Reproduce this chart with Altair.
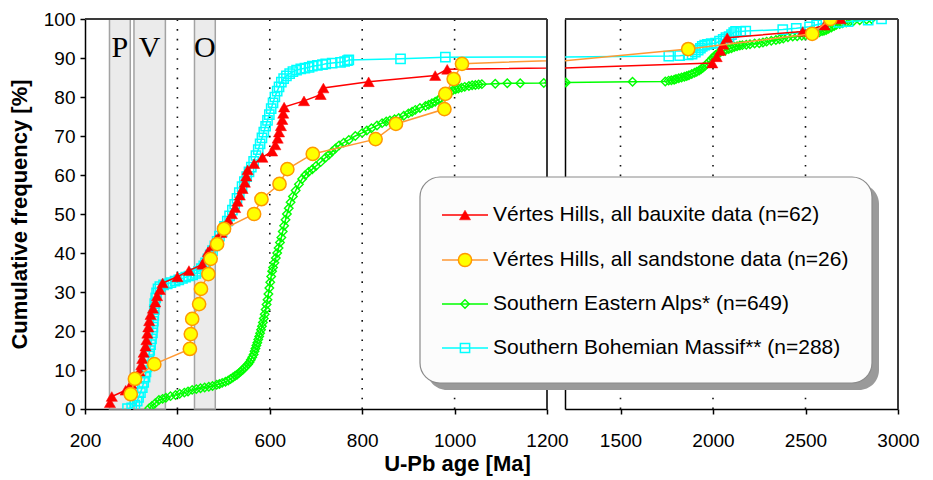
import altair as alt
import pandas as pd

FONT = "Liberation Sans"

# ---------------- data ----------------
series_names = [
    "Vértes Hills, all bauxite data (n=62)",
    "Vértes Hills, all sandstone data (n=26)",
    "Southern Eastern Alps* (n=649)",
    "Southern Bohemian Massif** (n=288)",
]

red_age = [254, 258, 288, 300, 310, 318, 322, 324, 327, 331, 333, 335, 337, 339, 342, 347,
           352, 356, 362, 368, 400, 425, 454, 462, 466, 476, 484, 495, 502, 510, 518, 525,
           530, 535, 541, 546, 549, 552, 566, 584, 605, 612, 617, 620, 624, 627, 629, 631,
           674, 710, 716, 814, 958, 984, 1996, 2020, 2040, 2055, 2077, 2485, 2603, 2690]
red_pct = [1.6, 3.2, 4.8, 6.5, 8.1, 9.7, 11.3, 12.9, 14.5, 16.1, 17.7, 19.4, 21.0, 22.6, 24.2, 25.8,
           27.4, 29.0, 30.6, 32.3, 33.9, 35.5, 37.1, 38.7, 40.3, 41.9, 43.5, 45.2, 46.8, 48.4, 50.0, 51.6,
           53.2, 54.8, 56.5, 58.1, 59.7, 61.3, 62.9, 64.5, 66.1, 67.7, 69.4, 71.0, 72.6, 74.2, 75.8, 77.4,
           79.0, 80.6, 82.3, 83.9, 85.5, 87.1, 88.7, 90.3, 91.9, 93.5, 95.2, 96.8, 98.4, 100.0]

orange_age = [299, 308, 350, 427, 429, 432, 447, 451, 467, 472, 486, 501, 566, 582, 621, 638,
              693, 829, 873, 978, 980, 998, 1016, 1866, 2536, 2634]
orange_pct = [3.8, 7.7, 11.5, 15.4, 19.2, 23.1, 26.9, 30.8, 34.6, 38.5, 42.3, 46.2, 50.0, 53.8, 57.7, 61.5,
              65.4, 69.2, 73.1, 76.9, 80.8, 84.6, 88.5, 92.3, 96.2, 100.0]

green_age = [339, 345, 352, 360, 368, 375, 385, 396, 405, 415, 423, 432, 441, 450, 459, 468, 476, 485,
             491, 497, 504, 510, 515, 520, 525, 529, 533, 537, 541, 545, 549, 553, 556, 559, 562, 565,
             567, 569, 571, 573, 575, 577, 579, 581, 583, 585, 587, 589, 591, 593, 595, 597, 599, 601,
             603, 605, 607, 610, 613, 616, 619, 622, 625, 628, 631, 634, 637, 641, 645, 650, 656, 663,
             670, 677, 684, 692, 700, 710, 721, 728, 735, 742, 750, 760, 771, 785, 800, 810, 820, 832,
             843, 852, 860, 870, 879, 890, 900, 908, 915, 925, 937, 944, 951, 958, 965, 970, 975, 980,
             985, 990, 996, 1002, 1008, 1015, 1022, 1031, 1038, 1045, 1052, 1059, 1088, 1114, 1142, 1193,
             1205, 1565, 1742, 1760, 1775, 1790, 1800, 1815, 1830, 1845, 1858, 1870, 1885, 1900, 1912,
             1925, 1935, 1945, 1955, 1965, 1978, 1988, 1997, 2006, 2014, 2027, 2040, 2055, 2068, 2085,
             2100, 2115, 2130, 2145, 2159, 2180, 2200, 2225, 2250, 2270, 2290, 2315, 2340, 2360, 2380,
             2405, 2431, 2455, 2480, 2500, 2522, 2540, 2560, 2575, 2590, 2600, 2612, 2625, 2640, 2655,
             2667, 2685, 2700, 2720, 2739, 2760, 2793, 2830, 2857]
green_pct = [0.2, 0.8, 1.5, 2.3, 2.6, 2.9, 3.3, 3.6, 3.9, 4.2, 4.5, 4.9, 5.1, 5.3, 5.5, 5.7, 5.9, 6.2,
             6.4, 6.7, 7.0, 7.3, 7.7, 8.1, 8.5, 8.8, 9.2, 9.6, 10.0, 10.5, 11.0, 11.5, 12.0, 12.6, 13.3, 14.0,
             14.8, 15.5, 16.3, 17.0, 17.8, 18.6, 19.4, 20.3, 21.2, 22.2, 23.2, 24.3, 25.5, 26.8, 28.0, 29.5, 31.0, 32.5,
             34.0, 35.3, 36.3, 37.5, 38.7, 40.0, 41.3, 42.7, 44.0, 45.5, 47.0, 48.5, 50.0, 51.5, 53.0, 54.5, 56.0, 57.6,
             59.0, 60.0, 60.8, 61.5, 62.3, 63.3, 64.5, 65.2, 66.0, 66.8, 67.6, 68.3, 69.0, 70.0, 70.8, 71.4, 72.0, 72.7,
             73.3, 73.7, 74.0, 74.3, 74.6, 75.2, 75.8, 76.2, 76.7, 77.2, 77.7, 78.0, 78.4, 78.8, 79.3, 79.7, 80.1, 80.5,
             80.9, 81.3, 81.7, 82.0, 82.2, 82.4, 82.6, 82.8, 83.0, 83.1, 83.2, 83.3, 83.4, 83.5, 83.5, 83.6,
             83.7, 83.9, 84.0, 84.2, 84.3, 84.4, 84.6, 84.8, 85.0, 85.2, 85.4, 85.6, 85.9, 86.2, 86.5,
             86.8, 87.1, 87.5, 87.9, 88.4, 89.0, 89.5, 90.0, 90.4, 90.8, 91.2, 91.5, 91.8, 92.0, 92.3,
             92.5, 92.8, 93.0, 93.2, 93.3, 93.4, 93.5, 93.7, 93.8, 94.0, 94.2, 94.4, 94.6, 94.8, 95.0,
             95.3, 95.5, 95.6, 95.7, 95.8, 95.9, 96.1, 96.4, 96.6, 96.9, 97.0, 97.2, 97.5, 97.8, 98.2,
             98.5, 98.7, 98.9, 99.1, 99.3, 99.5, 99.7, 99.85, 100.0]

cyan_age = [292, 301, 308, 313, 316, 320, 324, 327, 330, 332, 334, 336, 338, 340, 342, 344, 346, 347,
            348, 349, 350, 351, 353, 355, 358, 362, 370, 378, 386, 395, 403, 411, 418, 425, 433, 440,
            446, 452, 457, 461, 466, 471, 476, 481, 486, 491, 497, 502, 508, 513, 519, 524, 529, 534,
            540, 545, 550, 555, 560, 565, 570, 575, 579, 583, 587, 591, 595, 599, 603, 607, 611, 616,
            620, 625, 630, 636, 643, 650, 658, 667, 676, 685, 692, 703, 714, 721, 735, 753, 762, 768,
            771, 883, 980, 1761, 1820, 1866, 1887, 1905, 1920, 1932, 1942, 1955, 1970, 1990, 2014, 2035,
            2055, 2070, 2087, 2100, 2112, 2122, 2150, 2177, 2377, 2450, 2522, 2560, 2594, 2680, 2730,
            2839, 2911]
cyan_pct = [0.1, 0.3, 1.0, 2.0, 3.0, 4.2, 5.5, 6.8, 8.2, 9.5, 10.8, 12.2, 13.6, 15.0, 16.5, 18.0, 19.5, 21.0,
            22.5, 24.0, 25.5, 27.0, 28.5, 29.8, 30.8, 31.4, 31.8, 32.1, 32.4, 32.8, 33.1, 33.5, 33.8, 34.1, 34.4, 34.8,
            35.3, 36.0, 36.7, 37.5, 38.5, 39.5, 40.6, 41.8, 43.0, 44.3, 45.5, 46.8, 48.2, 49.5, 51.0, 52.5, 54.0, 55.5,
            57.0, 58.3, 59.6, 60.8, 62.0, 63.5, 65.0, 66.5, 68.0, 69.5, 71.0, 72.5, 74.0, 75.5, 77.0, 78.5, 80.0, 81.5,
            82.6, 83.8, 84.7, 85.4, 86.0, 86.5, 86.9, 87.2, 87.4, 87.6, 87.9, 88.1, 88.3, 88.5, 88.7, 88.9, 89.1, 89.3,
            89.5, 89.8, 90.2, 90.5, 90.6, 90.8, 91.0, 91.5, 92.0, 92.5, 93.0, 93.3, 93.5, 93.7, 93.8, 94.3,
            94.8, 95.2, 95.5, 96.0, 96.5, 96.8, 96.8, 96.9, 97.3, 97.6, 98.0, 98.5, 98.9, 99.1, 99.3,
            99.7, 100.0]

band_labels = ["P", "V", "O"]
band_start = [253, 306, 437]
band_end = [298, 374, 482]

grid_left = [400, 600, 800, 1000]
grid_right = [1500, 2000, 2500]
ticks_left = [200, 400, 600, 800, 1000, 1200]
ticks_right = [1500, 2000, 2500, 3000]
y_ticks = [0, 10, 20, 30, 40, 50, 60, 70, 80, 90, 100]

# ---------------- tables ----------------
def table(ages, pcts):
    return pd.DataFrame({"age": ages, "pct": pcts})

tables = {
    "green": table(green_age, green_pct),
    "cyan": table(cyan_age, cyan_pct),
    "red": table(red_age, red_pct),
    "orange": table(orange_age, orange_pct),
}
bands = pd.DataFrame({"label": band_labels, "start": band_start, "end": band_end})
one = pd.DataFrame({"k": [0]})

styles = {
    "red": dict(line="#ff0000", shape="triangle-up", filled=True, fill="#ff0000", stroke="#ff0000", size=125, sw=0.5),
    "orange": dict(line="#ff9933", shape="circle", filled=True, fill="#ffff00", stroke="#ff9900", size=175, sw=1.5),
    "green": dict(line="#00ff00", shape="diamond", filled=False, fill="transparent", stroke="#00ff00", size=72, sw=1.4),
    "cyan": dict(line="#00ffff", shape="square", filled=False, fill="transparent", stroke="#00ffff", size=85, sw=1.5),
}
legend_order = ["red", "orange", "green", "cyan"]
draw_order = ["green", "cyan", "red", "orange"]

H = 390
W_LEFT = 462
W_RIGHT = 333
y_scale = alt.Scale(domain=[0, 100], nice=False, zero=True)


def point_args(st):
    args = dict(shape=st["shape"], size=st["size"], strokeWidth=st["sw"], opacity=1,
                stroke=st["stroke"], filled=st["filled"])
    if st["filled"]:
        args["fill"] = st["fill"]
    return args


def panel(domain, width, x_values, x_axis_kw, grid_vals, y_axis, left, extra_layers):
    xscale = alt.Scale(domain=domain, nice=False, zero=False)
    xaxis = alt.Axis(values=x_values, format="d", labelFlush=False, labelOverlap=False, grid=False, **x_axis_kw)

    def X(f):
        return alt.X(f, type="quantitative", scale=xscale, axis=xaxis)

    def Y(f):
        return alt.Y(f, type="quantitative", scale=y_scale, axis=y_axis)

    def XD(v):
        return alt.XDatum(v, type="quantitative", scale=xscale, axis=xaxis)

    def YD(v):
        return alt.YDatum(v, type="quantitative", scale=y_scale, axis=y_axis)

    layers = []
    if left:
        layers.append(
            alt.Chart(bands).mark_rect(fill="#ebebeb", stroke="#a3a3a3", strokeWidth=1.5)
            .encode(x=X("start"), x2="end", y=YD(0), y2=alt.Y2Datum(100))
        )
    layers.append(
        alt.Chart(pd.DataFrame({"g": grid_vals})).mark_rule(color="#111111", strokeWidth=1.6, strokeDash=[1.6, 8.1])
        .encode(x=X("g"), y=YD(0), y2=alt.Y2Datum(100))
    )
    if left:
        layers.append(
            alt.Chart(bands).transform_calculate(mid="(datum.start + datum.end) / 2")
            .mark_text(font="Liberation Serif", fontSize=30, baseline="alphabetic", align="center", color="black")
            .encode(x=X("mid"), y=YD(90.3), text="label:N")
        )
    for key in draw_order:
        st = styles[key]
        df = tables[key]
        layers.append(
            alt.Chart(df).mark_line(color=st["line"], strokeWidth=1.5, clip=True)
            .encode(x=X("age"), y=Y("pct"))
        )
        layers.append(
            alt.Chart(df).mark_point(clip=True, **point_args(st))
            .encode(x=X("age"), y=Y("pct"))
        )
    # frame: top and right edges
    layers.append(
        alt.Chart(one).mark_rule(color="#3a3a3a", strokeWidth=2)
        .encode(x=XD(domain[0]), x2=alt.X2Datum(domain[1]), y=YD(100))
    )
    layers.append(
        alt.Chart(one).mark_rule(color="#3a3a3a", strokeWidth=2)
        .encode(x=XD(domain[1]), y=YD(0), y2=alt.Y2Datum(100))
    )
    layers.extend(extra_layers)
    return alt.layer(*layers).properties(width=width, height=H)


# ---------------- legend (drawn in right panel, extends left) ----------------
LX0, LX1, LY0, LY1 = -145, 307, 158, 364
SH = 7
rows_y = [196, 241, 285, 329]
legend_layers = [
    alt.Chart(one).mark_rect(fill="#9a9a9a", cornerRadius=20)
    .encode(x=alt.value(LX0 + SH), x2=alt.value(LX1 + SH), y=alt.value(LY0 + SH), y2=alt.value(LY1 + SH)),
    alt.Chart(one).mark_rect(fill="#fcfcfc", stroke="#8a8a8a", strokeWidth=1.2, cornerRadius=20)
    .encode(x=alt.value(LX0), x2=alt.value(LX1), y=alt.value(LY0), y2=alt.value(LY1)),
]
for key, name, ry in zip(legend_order, series_names, rows_y):
    st = styles[key]
    legend_layers.append(
        alt.Chart(one).mark_rule(color=st["line"], strokeWidth=1.5)
        .encode(x=alt.value(-123), x2=alt.value(-77), y=alt.value(ry))
    )
    legend_layers.append(
        alt.Chart(one).mark_point(**point_args(st)).encode(x=alt.value(-100), y=alt.value(ry))
    )
    legend_layers.append(
        alt.Chart(one).mark_text(font=FONT, fontSize=21, align="left", baseline="middle", color="black")
        .encode(x=alt.value(-72), y=alt.value(ry), text=alt.value(name))
    )

common_x = dict(labelFontSize=19, labelPadding=17, tickSize=5)

y_axis_left = alt.Axis(values=y_ticks, title="Cumulative frequency [%]", titleFontSize=22,
                       titleFontWeight="bold", titlePadding=12, labelFontSize=19, labelPadding=5,
                       tickSize=5, grid=False)
y_axis_right = alt.Axis(labels=False, ticks=False, title=None, grid=False)

left_chart = panel([200, 1200], W_LEFT, ticks_left,
                   dict(title="U-Pb age [Ma]", titleFontSize=22, titleFontWeight="bold",
                        titleX=372, titlePadding=3, **common_x),
                   grid_left, y_axis_left, True, [])
right_chart = panel([1200, 3000], W_RIGHT, ticks_right, dict(title=None, **common_x),
                    grid_right, y_axis_right, False, legend_layers)

chart = (
    alt.hconcat(left_chart, right_chart, spacing=18, bounds="flush")
    .properties(padding={"left": 0, "top": 2, "right": 0, "bottom": 4})
    .configure_view(stroke=None)
    .configure_axis(domainColor="black", domainWidth=1.5, tickColor="black", tickWidth=1.5,
                    labelFont=FONT, titleFont=FONT, labelColor="black", titleColor="black")
)

chart.save("out.html", embed_options={"renderer": "svg", "actions": False})
